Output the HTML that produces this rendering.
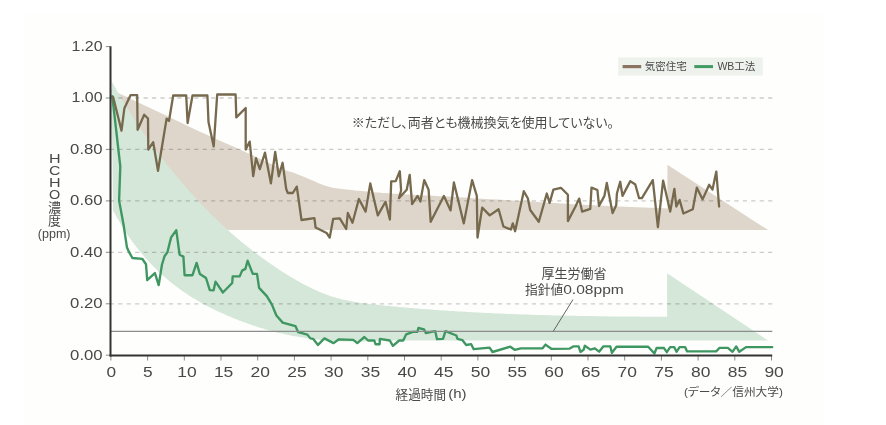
<!DOCTYPE html>
<html><head><meta charset="utf-8"><style>
html,body{margin:0;padding:0;background:#fff;}
body{width:886px;height:425px;overflow:hidden;}
svg{display:block;}
.grid{stroke:rgba(0,0,0,0.2);stroke-width:1.3;stroke-dasharray:4.2 4.24;}
.tick{stroke:#8a8a8a;stroke-width:1;}
text{font-family:"Liberation Sans","Noto Sans CJK JP",sans-serif;fill:#4a4a4a;}
.num{font-size:15px;fill:#484848;}
.jp{font-family:"Liberation Sans","Noto Sans CJK JP",sans-serif;font-feature-settings:"palt";}
</style></head><body>
<svg style="will-change:transform" width="886" height="425" viewBox="0 0 886 425">
<rect x="0" y="0" width="886" height="425" fill="#ffffff"/>
<rect x="24" y="14" width="800" height="411" fill="#fefefd"/>
<polygon points="110.8,89.6 111.3,89.8 111.6,89.9 112.1,90.2 113.2,90.7 115.4,91.7 119.1,93.4 124.7,96.0 132.0,99.5 140.4,103.4 149.1,107.5 157.5,111.5 165.0,115.0 171.7,118.2 178.1,121.2 184.2,124.2 189.9,126.9 195.2,129.4 200.0,131.7 204.1,133.6 207.5,135.1 210.4,136.5 213.1,137.7 215.8,138.9 218.8,140.2 221.9,141.6 225.1,143.0 228.3,144.3 231.4,145.7 234.6,147.1 237.7,148.5 240.8,149.9 243.8,151.3 246.8,152.7 249.9,154.1 253.1,155.6 256.5,157.2 260.2,158.9 264.2,160.8 268.3,162.7 272.4,164.6 276.3,166.4 280.0,168.0 283.3,169.3 286.4,170.4 289.3,171.4 292.2,172.3 295.1,173.3 298.0,174.4 301.1,175.7 304.4,177.0 307.7,178.5 310.9,179.8 313.7,181.1 316.1,182.1 317.9,182.9 319.2,183.4 320.2,183.8 321.0,184.2 322.0,184.6 323.3,185.0 324.8,185.5 326.4,186.0 328.1,186.5 329.9,187.0 331.9,187.5 334.2,187.9 336.8,188.3 339.7,188.7 342.7,189.1 345.9,189.4 349.1,189.8 352.2,190.1 355.2,190.4 358.2,190.7 361.3,191.0 364.3,191.3 367.3,191.6 370.3,191.9 373.3,192.2 376.3,192.4 379.3,192.6 382.3,192.9 385.3,193.1 388.3,193.3 391.1,193.5 393.8,193.7 396.4,193.8 399.2,194.0 402.5,194.2 406.4,194.4 410.9,194.6 415.8,194.9 421.2,195.2 427.0,195.5 433.3,195.8 440.0,196.2 447.4,196.6 455.6,197.1 464.3,197.6 473.1,198.2 481.8,198.7 490.0,199.2 497.6,199.6 504.6,200.1 511.6,200.4 518.7,200.9 526.4,201.3 535.0,201.8 544.6,202.4 555.1,203.0 566.1,203.7 577.4,204.4 588.8,205.0 600.0,205.6 611.9,206.2 624.8,206.7 637.8,207.2 649.8,207.7 660.0,208.1 667.4,208.4 667.4,164.7 768.2,230.1 135.0,230.1 112.5,150.0" fill="#ded6cb"/>
<polygon points="111.6,81.2 113.6,84.8 115.6,88.3 117.6,91.8 119.6,95.3 121.6,98.7 123.6,102.0 125.6,105.3 127.6,108.6 129.6,111.8 131.6,115.0 133.6,118.1 135.6,121.2 137.6,124.3 139.6,127.3 141.6,130.2 143.6,133.2 145.6,136.0 147.6,138.9 149.6,141.7 151.6,144.5 153.6,147.2 155.6,149.9 157.6,152.6 159.6,155.2 161.6,157.8 163.6,160.3 165.6,162.9 167.6,165.4 169.6,167.9 171.6,170.3 173.6,172.8 175.6,175.2 177.6,177.6 179.6,179.9 181.6,182.3 183.6,184.6 185.6,186.9 187.6,189.1 189.6,191.4 191.6,193.6 193.6,195.8 195.6,198.0 197.6,200.2 199.6,202.3 201.6,204.4 203.6,206.5 205.6,208.6 207.6,210.6 209.6,212.7 211.6,214.7 213.6,216.6 215.6,218.6 217.6,220.5 219.6,222.4 221.6,224.3 223.6,226.2 225.6,228.0 227.6,229.8 229.6,231.6 231.6,233.4 233.6,235.1 235.6,236.9 237.6,238.6 239.6,240.2 241.6,241.9 243.6,243.5 245.6,245.1 247.6,246.7 249.6,248.3 251.6,249.9 253.6,251.4 255.6,252.9 257.6,254.4 259.6,255.9 261.6,257.4 263.6,258.8 265.6,260.2 267.6,261.7 269.6,263.1 271.6,264.5 273.6,265.8 275.6,267.2 277.6,268.5 279.6,269.9 281.6,271.2 283.6,272.5 285.6,273.7 287.6,275.0 289.6,276.2 291.6,277.4 293.6,278.6 295.6,279.8 297.6,280.9 299.6,282.1 301.6,283.2 303.6,284.2 305.6,285.3 307.6,286.3 309.6,287.3 311.6,288.3 313.6,289.2 315.6,290.1 317.6,291.0 319.6,291.9 321.6,292.7 323.6,293.5 325.6,294.3 327.6,295.0 329.6,295.7 331.6,296.4 333.6,297.0 335.6,297.6 337.6,298.2 339.6,298.7 341.6,299.2 343.6,299.7 345.6,300.1 347.6,300.6 349.6,301.0 351.6,301.3 353.6,301.7 355.6,302.0 357.6,302.4 359.6,302.7 361.6,302.9 363.6,303.2 365.6,303.5 367.6,303.7 369.6,304.0 371.6,304.2 373.6,304.4 375.6,304.6 377.6,304.8 379.6,305.0 381.6,305.2 383.6,305.5 385.6,305.7 387.6,305.8 389.6,306.0 391.6,306.2 393.6,306.4 395.6,306.6 397.6,306.8 399.6,307.0 401.6,307.2 403.6,307.3 405.6,307.5 407.6,307.7 409.6,307.9 411.6,308.0 413.6,308.2 415.6,308.4 417.6,308.5 419.6,308.7 421.6,308.9 423.6,309.0 425.6,309.2 427.6,309.3 429.6,309.5 431.6,309.6 433.6,309.8 435.6,309.9 437.6,310.1 439.6,310.2 441.6,310.3 443.6,310.5 445.6,310.6 447.6,310.7 449.6,310.9 451.6,311.0 453.6,311.1 455.6,311.2 457.6,311.4 459.6,311.5 461.6,311.6 463.6,311.7 465.6,311.8 467.6,312.0 469.6,312.1 471.6,312.2 473.6,312.3 475.6,312.4 477.6,312.5 479.6,312.6 481.6,312.7 483.6,312.8 485.6,312.9 487.6,313.0 489.6,313.1 491.6,313.2 493.6,313.3 495.6,313.4 497.6,313.5 499.6,313.5 501.6,313.6 503.6,313.7 505.6,313.8 507.6,313.9 509.6,314.0 511.6,314.0 513.6,314.1 515.6,314.2 517.6,314.3 519.6,314.3 521.6,314.4 523.6,314.5 525.6,314.5 527.6,314.6 529.6,314.7 531.6,314.7 533.6,314.8 535.6,314.9 537.6,314.9 539.6,315.0 541.6,315.0 543.6,315.1 545.6,315.1 547.6,315.2 549.6,315.3 551.6,315.3 553.6,315.4 555.6,315.4 557.6,315.5 559.6,315.5 561.6,315.5 563.6,315.6 565.6,315.6 567.6,315.7 569.6,315.7 571.6,315.8 573.6,315.8 575.6,315.8 577.6,315.9 579.6,315.9 581.6,315.9 583.6,316.0 585.6,316.0 587.6,316.0 589.6,316.1 591.6,316.1 593.6,316.1 595.6,316.2 597.6,316.2 599.6,316.2 601.6,316.3 603.6,316.3 605.6,316.3 607.6,316.3 609.6,316.4 611.6,316.4 613.6,316.4 615.6,316.4 617.6,316.4 619.6,316.5 621.6,316.5 623.6,316.5 625.6,316.5 627.6,316.5 629.6,316.6 631.6,316.6 633.6,316.6 635.6,316.6 637.6,316.6 639.6,316.6 641.6,316.7 643.6,316.7 645.6,316.7 647.6,316.7 649.6,316.7 651.6,316.7 653.6,316.7 655.6,316.7 657.6,316.8 659.6,316.8 661.6,316.8 663.6,316.8 665.6,316.8 667.1,316.8 667.1,273.3 768.2,340.6 380.0,340.6 379.0,340.7 377.0,340.8 375.0,340.9 373.0,341.0 371.0,341.1 369.0,341.2 367.0,341.3 365.0,341.4 363.0,341.4 361.0,341.5 359.0,341.5 357.0,341.5 355.0,341.6 353.0,341.6 351.0,341.5 349.0,341.5 347.0,341.5 345.0,341.4 343.0,341.4 341.0,341.3 339.0,341.2 337.0,341.1 335.0,341.0 333.0,340.9 331.0,340.8 329.0,340.6 327.0,340.5 325.0,340.3 323.0,340.1 321.0,340.0 319.0,339.7 317.0,339.5 315.0,339.3 313.0,339.1 311.0,338.8 309.0,338.5 307.0,338.2 305.0,337.9 303.0,337.6 301.0,337.3 299.0,337.0 297.0,336.6 295.0,336.3 293.0,335.9 291.0,335.5 289.0,335.1 287.0,334.7 285.0,334.3 283.0,333.8 281.0,333.3 279.0,332.9 277.0,332.4 275.0,331.9 273.0,331.4 271.0,330.8 269.0,330.3 267.0,329.7 265.0,329.2 263.0,328.6 261.0,328.0 259.0,327.4 257.0,326.7 255.0,326.1 253.0,325.4 251.0,324.7 249.0,324.0 247.0,323.3 245.0,322.6 243.0,321.9 241.0,321.1 239.0,320.4 237.0,319.6 235.0,318.8 233.0,318.0 231.0,317.1 229.0,316.3 227.0,315.4 225.0,314.5 223.0,313.6 221.0,312.7 219.0,311.8 217.0,310.9 215.0,309.9 213.0,308.9 211.0,307.9 209.0,306.9 207.0,305.9 205.0,304.8 203.0,303.7 201.0,302.6 199.0,301.5 197.0,300.3 195.0,299.1 193.0,297.9 191.0,296.7 189.0,295.4 187.0,294.1 185.0,292.8 183.0,291.4 181.0,290.0 179.0,288.5 177.0,287.0 175.0,285.5 173.0,284.0 171.0,282.4 169.0,280.7 167.0,279.0 165.0,277.3 163.0,275.5 161.0,273.7 159.0,271.9 157.0,270.0 155.0,268.0 153.0,266.0 151.0,263.9 149.0,261.8 147.0,259.6 145.0,257.4 143.0,255.1 141.0,252.7 139.0,250.3 137.0,247.8 135.0,245.2 133.0,242.5 131.0,239.7 129.0,236.9 127.0,233.9 125.0,230.9 123.0,227.7 121.0,224.5 119.0,221.1 117.0,217.7 115.0,214.1 113.0,210.4" fill="#d5e7d9"/>
<line x1="109.8" y1="98.0" x2="772.9" y2="98.0" class="grid"/>
<line x1="109.8" y1="149.4" x2="772.9" y2="149.4" class="grid"/>
<line x1="109.8" y1="200.9" x2="772.9" y2="200.9" class="grid"/>
<line x1="109.8" y1="252.3" x2="772.9" y2="252.3" class="grid"/>
<line x1="109.8" y1="303.8" x2="772.9" y2="303.8" class="grid"/>

<polyline points="112.3,96.1 120.3,166.5 119.1,200.6 123.6,225.0 126.9,247.2 129.1,252.2 132.4,258.0 142.2,258.8 146.0,264.2 147.2,280.2 154.9,273.1 158.7,285.1 162.0,264.5 164.5,256.3 167.4,252.2 171.1,237.4 176.3,230.3 179.6,254.7 183.4,256.6 184.6,275.2 192.5,275.2 196.6,262.9 199.9,274.1 206.0,278.0 209.8,290.1 213.6,290.3 215.5,281.7 222.9,292.5 232.2,283.0 232.7,276.4 239.7,276.4 242.1,270.6 245.4,268.9 247.6,260.7 252.8,273.9 257.0,273.9 259.1,287.9 266.8,296.1 271.8,304.4 276.4,315.5 282.7,322.6 295.4,326.1 298.2,332.2 307.4,334.6 310.3,338.4 313.1,338.8 318.0,344.9 324.4,338.4 333.6,343.1 338.9,339.3 353.3,339.8 357.3,343.1 364.4,337.0 368.1,340.5 374.3,340.5 375.5,344.2 379.6,344.2 379.9,338.9 389.8,340.5 392.9,345.8 399.1,340.5 403.2,340.5 406.2,334.3 412.8,331.8 417.4,331.8 418.4,328.0 424.0,329.3 425.8,333.0 435.2,331.1 437.0,339.2 443.0,338.9 445.5,331.1 456.3,335.5 457.5,338.9 462.5,340.2 466.2,345.0 471.2,344.2 473.7,349.2 489.6,347.6 492.5,352.0 510.3,346.7 514.7,349.8 520.9,348.3 542.6,348.3 545.5,344.6 551.3,348.8 569.7,348.6 573.7,346.3 578.6,346.3 580.5,352.0 583.6,349.8 584.8,345.8 590.4,349.6 594.8,348.3 599.1,351.7 603.5,346.3 610.3,346.3 611.9,352.9 616.5,346.7 648.2,346.7 654.4,353.5 656.6,348.0 663.8,347.8 666.8,352.2 670.2,347.1 674.2,347.1 676.5,351.8 679.6,347.1 685.1,347.1 687.1,351.4 716.2,351.4 719.6,347.8 727.8,347.8 732.5,351.8 736.2,346.4 739.3,351.8 746.0,347.1 772.2,347.1" fill="none" stroke="#3e9660" stroke-width="2.35" stroke-linejoin="round" stroke-linecap="round"/>
<polyline points="113.2,97.2 121.5,130.6 124.4,108.2 130.5,95.2 137.2,95.2 137.6,129.8 144.2,114.8 148.0,118.5 148.3,149.6 153.2,142.2 158.0,170.8 166.6,118.6 169.0,121.0 173.2,95.5 186.2,95.5 187.6,123.0 192.5,95.5 207.4,95.5 208.5,122.1 213.7,146.4 217.2,94.5 235.6,94.5 236.3,117.4 245.7,108.0 245.7,149.6 249.7,141.6 253.2,176.2 256.0,158.1 259.8,169.2 265.0,152.7 270.9,183.4 275.2,151.9 278.8,176.3 282.6,162.8 286.2,189.0 287.8,193.0 292.8,193.0 296.8,186.6 301.5,220.0 314.4,218.1 315.6,227.5 326.6,233.0 329.7,237.6 333.2,218.8 339.8,218.4 346.2,229.0 347.8,213.0 352.5,222.8 358.9,199.0 365.6,211.6 370.3,183.4 377.8,215.4 385.5,201.8 389.9,219.5 391.2,181.4 395.7,181.1 399.8,171.2 401.1,190.5 398.9,198.2 406.7,189.7 409.7,174.8 412.1,204.2 417.6,195.9 420.4,201.5 424.2,180.1 428.6,189.7 430.7,221.8 443.9,195.9 450.6,210.4 453.9,182.5 463.8,223.4 472.1,180.1 476.8,195.9 477.5,237.5 482.2,207.6 489.7,215.4 498.6,209.3 503.4,226.5 510.9,229.5 512.8,223.4 515.1,231.2 523.8,191.2 527.8,198.2 530.2,210.0 538.8,221.8 546.8,193.5 549.6,202.9 553.4,189.6 560.9,187.8 567.9,194.7 567.9,221.1 575.5,206.5 579.2,198.6 582.1,211.6 590.3,208.8 591.5,187.6 597.4,190.0 599.0,206.0 604.4,195.9 606.8,183.0 612.6,213.1 616.2,205.3 616.9,193.5 620.2,181.8 622.5,195.9 630.3,181.1 635.3,184.5 639.1,198.2 641.9,198.2 652.8,180.1 657.9,227.2 663.1,180.6 670.2,211.6 674.4,188.8 676.3,206.5 679.6,199.9 683.4,213.5 692.8,209.3 696.8,187.6 702.6,199.4 709.2,184.8 712.5,189.5 716.3,171.6 719.1,206.5" fill="none" stroke="#76694d" stroke-width="2.3" stroke-linejoin="round" stroke-linecap="round"/>
<line x1="110.5" y1="331.4" x2="772.3" y2="331.4" stroke="#8c8c8c" stroke-width="1.3"/>
<line x1="553.2" y1="331.4" x2="573" y2="299.5" stroke="#555" stroke-width="0.9"/>
<line x1="105.8" y1="46.6" x2="110" y2="46.6" class="tick"/>
<line x1="105.8" y1="98.0" x2="110" y2="98.0" class="tick"/>
<line x1="105.8" y1="149.4" x2="110" y2="149.4" class="tick"/>
<line x1="105.8" y1="200.9" x2="110" y2="200.9" class="tick"/>
<line x1="105.8" y1="252.3" x2="110" y2="252.3" class="tick"/>
<line x1="105.8" y1="303.8" x2="110" y2="303.8" class="tick"/>
<line x1="105.8" y1="355.2" x2="110" y2="355.2" class="tick"/>
<line x1="110.9" y1="355" x2="110.9" y2="360.5" class="tick"/>
<line x1="147.6" y1="355" x2="147.6" y2="360.5" class="tick"/>
<line x1="184.3" y1="355" x2="184.3" y2="360.5" class="tick"/>
<line x1="221.0" y1="355" x2="221.0" y2="360.5" class="tick"/>
<line x1="257.7" y1="355" x2="257.7" y2="360.5" class="tick"/>
<line x1="294.4" y1="355" x2="294.4" y2="360.5" class="tick"/>
<line x1="331.1" y1="355" x2="331.1" y2="360.5" class="tick"/>
<line x1="367.8" y1="355" x2="367.8" y2="360.5" class="tick"/>
<line x1="404.5" y1="355" x2="404.5" y2="360.5" class="tick"/>
<line x1="441.2" y1="355" x2="441.2" y2="360.5" class="tick"/>
<line x1="477.9" y1="355" x2="477.9" y2="360.5" class="tick"/>
<line x1="514.6" y1="355" x2="514.6" y2="360.5" class="tick"/>
<line x1="551.3" y1="355" x2="551.3" y2="360.5" class="tick"/>
<line x1="588.0" y1="355" x2="588.0" y2="360.5" class="tick"/>
<line x1="624.7" y1="355" x2="624.7" y2="360.5" class="tick"/>
<line x1="661.4" y1="355" x2="661.4" y2="360.5" class="tick"/>
<line x1="698.1" y1="355" x2="698.1" y2="360.5" class="tick"/>
<line x1="734.8" y1="355" x2="734.8" y2="360.5" class="tick"/>
<line x1="771.5" y1="355" x2="771.5" y2="360.5" class="tick"/>

<line x1="110.5" y1="46.3" x2="110.5" y2="356.5" stroke="#333" stroke-width="2"/>
<line x1="109.6" y1="355.5" x2="772.2" y2="355.5" stroke="#333" stroke-width="2"/>
<text x="102.6" y="50.9" class="num" text-anchor="end" textLength="31.0" lengthAdjust="spacingAndGlyphs">1.20</text>
<text x="102.6" y="102.3" class="num" text-anchor="end" textLength="31.0" lengthAdjust="spacingAndGlyphs">1.00</text>
<text x="102.6" y="153.7" class="num" text-anchor="end" textLength="32.5" lengthAdjust="spacingAndGlyphs">0.80</text>
<text x="102.6" y="205.2" class="num" text-anchor="end" textLength="32.5" lengthAdjust="spacingAndGlyphs">0.60</text>
<text x="102.6" y="256.6" class="num" text-anchor="end" textLength="32.5" lengthAdjust="spacingAndGlyphs">0.40</text>
<text x="102.6" y="308.1" class="num" text-anchor="end" textLength="32.5" lengthAdjust="spacingAndGlyphs">0.20</text>
<text x="102.6" y="359.5" class="num" text-anchor="end" textLength="32.5" lengthAdjust="spacingAndGlyphs">0.00</text>
<text x="111.2" y="377.4" class="num" text-anchor="middle" textLength="9.6" lengthAdjust="spacingAndGlyphs">0</text>
<text x="147.9" y="377.4" class="num" text-anchor="middle" textLength="9.6" lengthAdjust="spacingAndGlyphs">5</text>
<text x="186.9" y="377.4" class="num" text-anchor="middle" textLength="19.4" lengthAdjust="spacingAndGlyphs">10</text>
<text x="223.6" y="377.4" class="num" text-anchor="middle" textLength="19.4" lengthAdjust="spacingAndGlyphs">15</text>
<text x="260.3" y="377.4" class="num" text-anchor="middle" textLength="19.4" lengthAdjust="spacingAndGlyphs">20</text>
<text x="297.0" y="377.4" class="num" text-anchor="middle" textLength="19.4" lengthAdjust="spacingAndGlyphs">25</text>
<text x="333.7" y="377.4" class="num" text-anchor="middle" textLength="19.4" lengthAdjust="spacingAndGlyphs">30</text>
<text x="370.4" y="377.4" class="num" text-anchor="middle" textLength="19.4" lengthAdjust="spacingAndGlyphs">35</text>
<text x="407.1" y="377.4" class="num" text-anchor="middle" textLength="19.4" lengthAdjust="spacingAndGlyphs">40</text>
<text x="443.8" y="377.4" class="num" text-anchor="middle" textLength="19.4" lengthAdjust="spacingAndGlyphs">45</text>
<text x="480.5" y="377.4" class="num" text-anchor="middle" textLength="19.4" lengthAdjust="spacingAndGlyphs">50</text>
<text x="517.2" y="377.4" class="num" text-anchor="middle" textLength="19.4" lengthAdjust="spacingAndGlyphs">55</text>
<text x="553.9" y="377.4" class="num" text-anchor="middle" textLength="19.4" lengthAdjust="spacingAndGlyphs">60</text>
<text x="590.6" y="377.4" class="num" text-anchor="middle" textLength="19.4" lengthAdjust="spacingAndGlyphs">65</text>
<text x="627.3" y="377.4" class="num" text-anchor="middle" textLength="19.4" lengthAdjust="spacingAndGlyphs">70</text>
<text x="664.0" y="377.4" class="num" text-anchor="middle" textLength="19.4" lengthAdjust="spacingAndGlyphs">75</text>
<text x="700.7" y="377.4" class="num" text-anchor="middle" textLength="19.4" lengthAdjust="spacingAndGlyphs">80</text>
<text x="737.4" y="377.4" class="num" text-anchor="middle" textLength="19.4" lengthAdjust="spacingAndGlyphs">85</text>
<text x="774.1" y="377.4" class="num" text-anchor="middle" textLength="19.4" lengthAdjust="spacingAndGlyphs">90</text>

<rect x="618.2" y="57.4" width="144.6" height="18.2" fill="#eef2ec"/>
<rect x="622.6" y="65" width="18.6" height="3.2" fill="#8a7461"/>
<rect x="694.3" y="65.1" width="18.7" height="3" fill="#3f9a64"/>
<text x="644.8" y="69.8" class="jp" style="font-size:10.5px">気密住宅</text>
<text x="717.4" y="69.8" class="jp" style="font-size:10.5px">WB工法</text>
<text x="351.8" y="127.4" class="jp" style="font-size:13px">※ただし、両者とも機械換気を使用していない。</text>
<text x="574" y="277.6" class="jp" style="font-size:13px;text-anchor:middle">厚生労働省</text>
<text x="524.9" y="294.2" class="jp" style="font-size:12.8px">指針値</text>
<text x="563.2" y="294.2" class="jp" style="font-size:13px" textLength="60.6" lengthAdjust="spacingAndGlyphs">0.08ppm</text>
<text x="395.6" y="398.8" class="jp" style="font-size:12.6px">経過時間</text>
<text x="448.2" y="398.2" class="jp" style="font-size:12.6px" textLength="18.4" lengthAdjust="spacingAndGlyphs">(h)</text>
<text x="733.4" y="395.8" class="jp" style="font-size:11px;text-anchor:middle" textLength="99" lengthAdjust="spacingAndGlyphs">(データ／信州大学)</text>
<text x="54.7" y="163" class="jp" style="font-size:13.3px;text-anchor:middle" textLength="11.6" lengthAdjust="spacingAndGlyphs">H</text>
<text x="54.7" y="175" class="jp" style="font-size:13.3px;text-anchor:middle" textLength="11.4" lengthAdjust="spacingAndGlyphs">C</text>
<text x="54.7" y="186.6" class="jp" style="font-size:13.3px;text-anchor:middle" textLength="11.6" lengthAdjust="spacingAndGlyphs">H</text>
<text x="54.7" y="198.7" class="jp" style="font-size:13.3px;text-anchor:middle" textLength="11.2" lengthAdjust="spacingAndGlyphs">O</text>
<text x="54.4" y="211.5" class="jp" style="font-size:13px;text-anchor:middle">濃</text>
<text x="54.4" y="224.8" class="jp" style="font-size:13px;text-anchor:middle">度</text>
<text x="54.2" y="238.2" class="jp" style="font-size:12.5px;text-anchor:middle">(ppm)</text>
</svg>
</body></html>
